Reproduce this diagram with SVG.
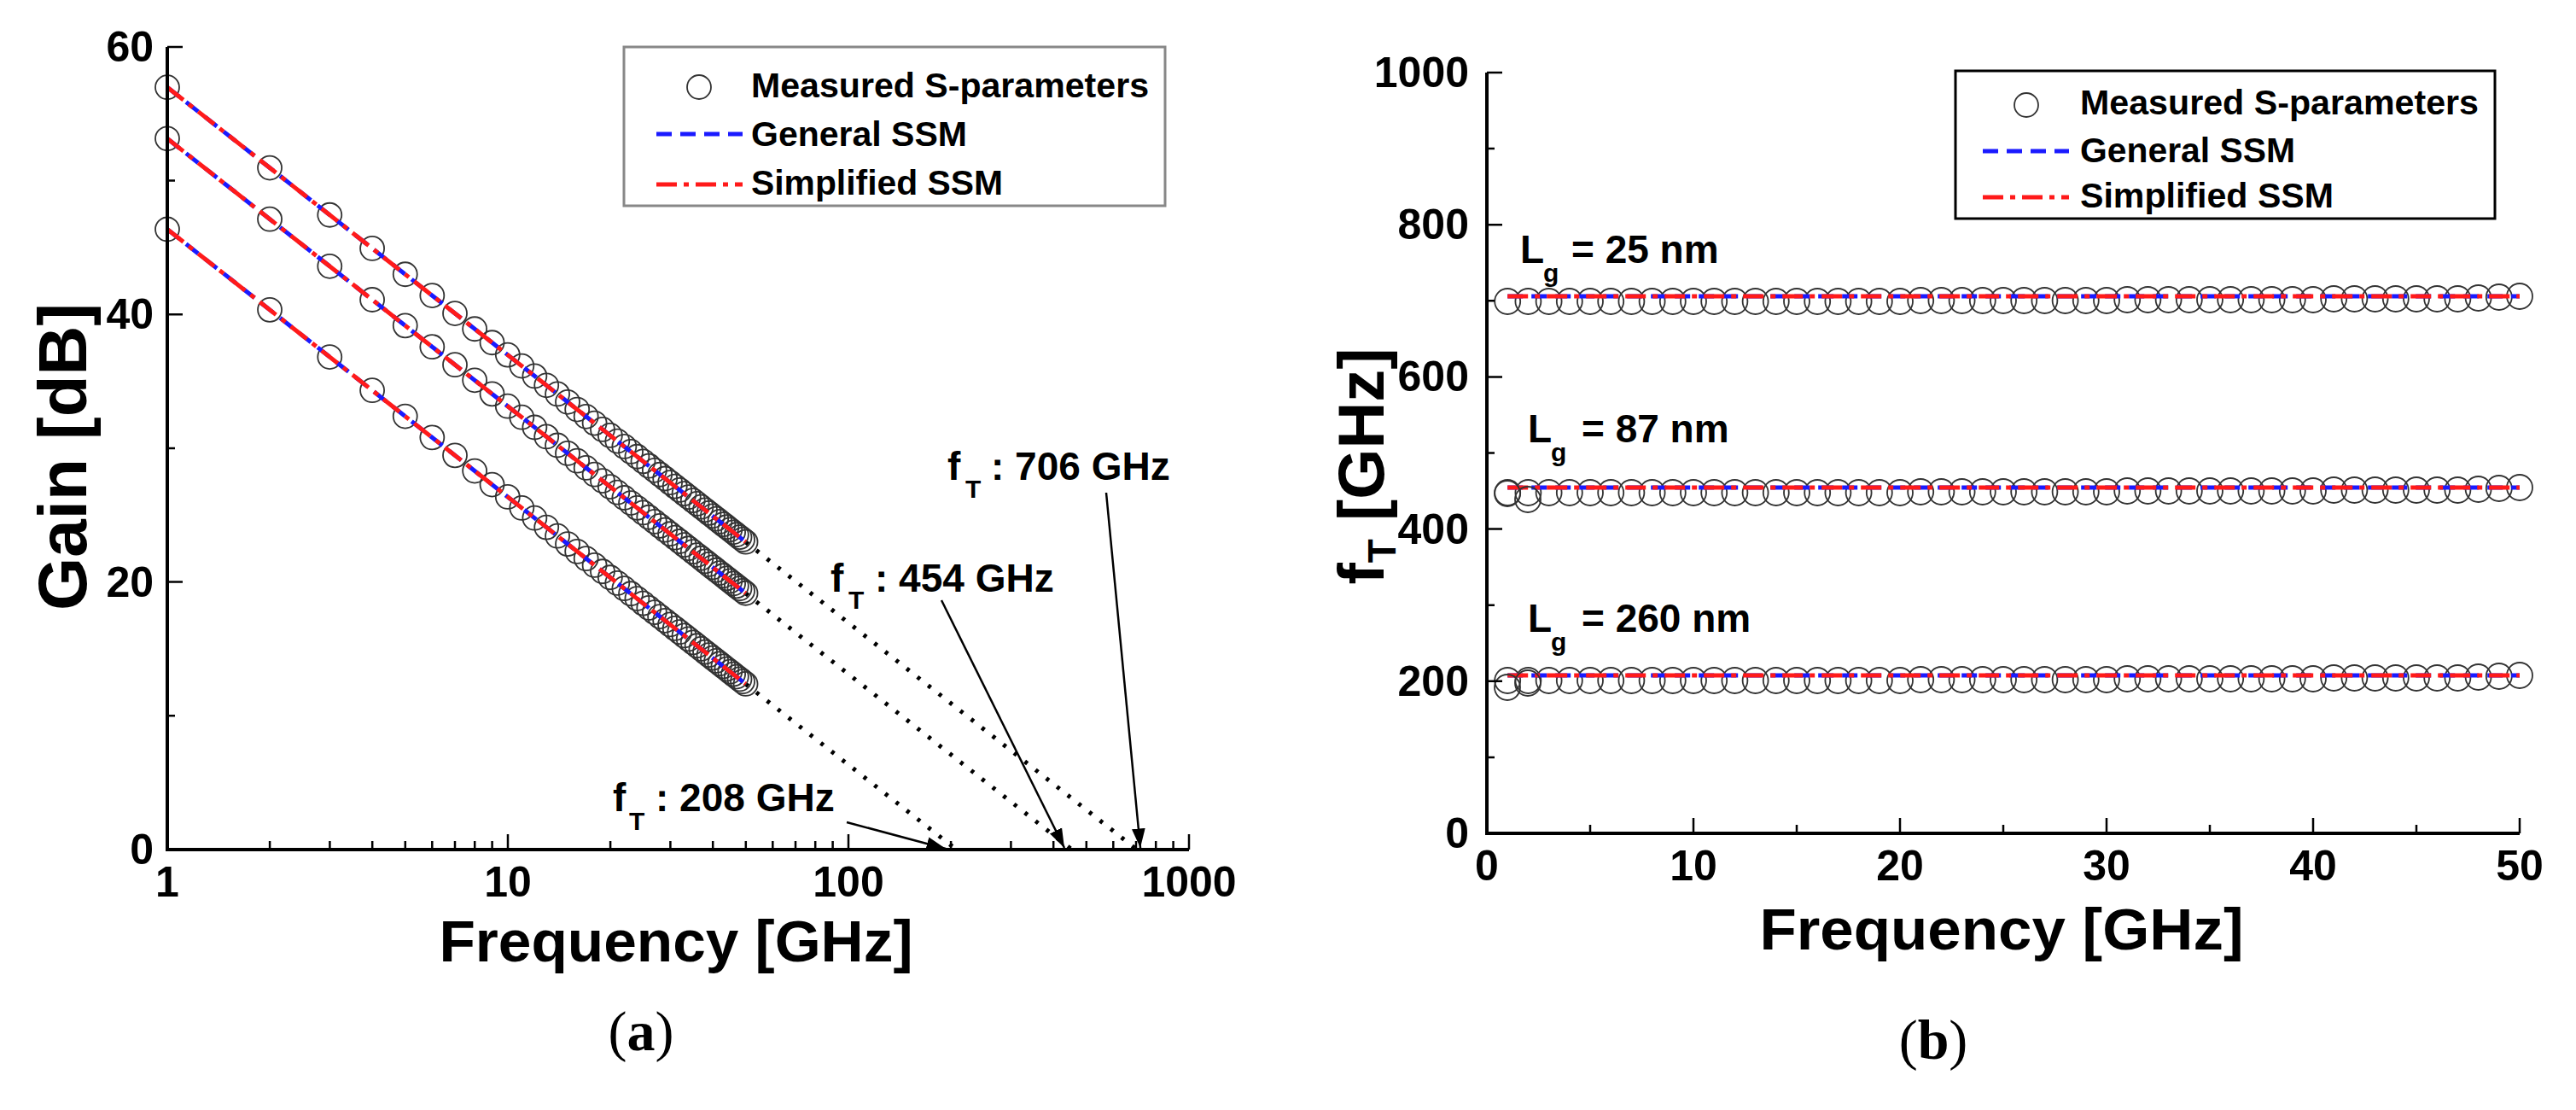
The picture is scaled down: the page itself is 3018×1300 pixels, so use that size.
<svg xmlns="http://www.w3.org/2000/svg" xmlns:xlink="http://www.w3.org/1999/xlink" width="3018" height="1300" viewBox="0 0 3018 1300">
<style>
text{font-family:"Liberation Sans",Arial,sans-serif;font-weight:bold;fill:#000}
.ax{stroke:#000;stroke-width:4;fill:none}
.tk{stroke:#000;stroke-width:2.5}
.pt{fill:none;stroke:#333;stroke-width:1.8}
.gen{stroke:#1a1aff;stroke-width:5;stroke-dasharray:18 10;fill:none}
.sim{stroke:#ff1a1a;stroke-width:5;stroke-dasharray:24 8 6 8;fill:none}
.dot{stroke:#000;stroke-width:5;stroke-dasharray:4 12;fill:none}
.arr{stroke:#000;stroke-width:2.5;fill:none}
.n{font-size:50px}
.t{font-size:46px}
.sb{font-size:30px}
.lg{font-size:40px}
.cap{font-family:"Liberation Serif","Times New Roman",serif;font-weight:normal;font-size:66px}
</style>
<defs>
<marker id="ah" viewBox="0 0 10 10" refX="10" refY="5" markerWidth="9" markerHeight="9" orient="auto"><path d="M0,1.5 L10,5 L0,8.5 z" fill="#000"/></marker>
<g id="serA">
<circle class="pt" r="14" cx="0" cy="0"/><circle class="pt" r="14" cx="120.05" cy="94.34"/><circle class="pt" r="14" cx="190.28" cy="149.53"/><circle class="pt" r="14" cx="240.10" cy="188.69"/><circle class="pt" r="14" cx="278.75" cy="219.06"/><circle class="pt" r="14" cx="310.33" cy="243.87"/><circle class="pt" r="14" cx="337.03" cy="264.85"/><circle class="pt" r="14" cx="360.15" cy="283.03"/><circle class="pt" r="14" cx="380.55" cy="299.06"/><circle class="pt" r="14" cx="398.8" cy="313.4"/>
<circle class="pt" r="14" cx="415.31" cy="326.37"/><circle class="pt" r="14" cx="430.38" cy="338.21"/><circle class="pt" r="14" cx="444.24" cy="349.11"/><circle class="pt" r="14" cx="457.08" cy="359.20"/><circle class="pt" r="14" cx="469.02" cy="368.59"/><circle class="pt" r="14" cx="480.20" cy="377.37"/><circle class="pt" r="14" cx="490.70" cy="385.62"/><circle class="pt" r="14" cx="500.60" cy="393.40"/><circle class="pt" r="14" cx="509.97" cy="400.76"/><circle class="pt" r="14" cx="518.85" cy="407.74"/>
<circle class="pt" r="14" cx="527.30" cy="414.38"/><circle class="pt" r="14" cx="535.36" cy="420.71"/><circle class="pt" r="14" cx="543.06" cy="426.77"/><circle class="pt" r="14" cx="550.43" cy="432.56"/><circle class="pt" r="14" cx="557.50" cy="438.11"/><circle class="pt" r="14" cx="564.29" cy="443.45"/><circle class="pt" r="14" cx="570.83" cy="448.59"/><circle class="pt" r="14" cx="577.13" cy="453.54"/><circle class="pt" r="14" cx="583.20" cy="458.32"/><circle class="pt" r="14" cx="589.08" cy="462.93"/>
<circle class="pt" r="14" cx="594.75" cy="467.39"/><circle class="pt" r="14" cx="600.25" cy="471.71"/><circle class="pt" r="14" cx="605.58" cy="475.90"/><circle class="pt" r="14" cx="610.75" cy="479.97"/><circle class="pt" r="14" cx="615.78" cy="483.91"/><circle class="pt" r="14" cx="620.65" cy="487.74"/><circle class="pt" r="14" cx="625.40" cy="491.47"/><circle class="pt" r="14" cx="630.02" cy="495.10"/><circle class="pt" r="14" cx="634.51" cy="498.64"/><circle class="pt" r="14" cx="638.90" cy="502.09"/>
<circle class="pt" r="14" cx="643.18" cy="505.45"/><circle class="pt" r="14" cx="647.35" cy="508.73"/><circle class="pt" r="14" cx="651.43" cy="511.93"/><circle class="pt" r="14" cx="655.41" cy="515.06"/><circle class="pt" r="14" cx="659.30" cy="518.12"/><circle class="pt" r="14" cx="663.11" cy="521.11"/><circle class="pt" r="14" cx="666.83" cy="524.04"/><circle class="pt" r="14" cx="670.48" cy="526.90"/><circle class="pt" r="14" cx="674.05" cy="529.71"/><circle class="pt" r="14" cx="677.55" cy="532.46"/>
<line class="gen" x1="0" y1="0" x2="677.55" y2="532.46"/>
<line class="sim" x1="0" y1="0" x2="677.55" y2="532.46"/>
</g>
<g id="serB">
<circle class="pt" r="15" cx="24.2" cy="6"/><circle class="pt" r="15" cx="48.4" cy="6"/><circle class="pt" r="15" cx="72.6" cy="6"/><circle class="pt" r="15" cx="96.8" cy="6"/><circle class="pt" r="15" cx="121" cy="6"/><circle class="pt" r="15" cx="145.2" cy="6"/><circle class="pt" r="15" cx="169.4" cy="6"/><circle class="pt" r="15" cx="193.6" cy="6"/><circle class="pt" r="15" cx="217.8" cy="6"/><circle class="pt" r="15" cx="242" cy="6"/>
<circle class="pt" r="15" cx="266.2" cy="6"/><circle class="pt" r="15" cx="290.4" cy="6"/><circle class="pt" r="15" cx="314.6" cy="6"/><circle class="pt" r="15" cx="338.8" cy="6"/><circle class="pt" r="15" cx="363" cy="6"/><circle class="pt" r="15" cx="387.2" cy="6"/><circle class="pt" r="15" cx="411.4" cy="6"/><circle class="pt" r="15" cx="435.6" cy="6"/><circle class="pt" r="15" cx="459.8" cy="6"/><circle class="pt" r="15" cx="484" cy="6"/>
<circle class="pt" r="15" cx="508.2" cy="5"/><circle class="pt" r="15" cx="532.4" cy="5"/><circle class="pt" r="15" cx="556.6" cy="5"/><circle class="pt" r="15" cx="580.8" cy="5"/><circle class="pt" r="15" cx="605" cy="5"/><circle class="pt" r="15" cx="629.2" cy="5"/><circle class="pt" r="15" cx="653.4" cy="5"/><circle class="pt" r="15" cx="677.6" cy="5"/><circle class="pt" r="15" cx="701.8" cy="5"/><circle class="pt" r="15" cx="726" cy="5"/>
<circle class="pt" r="15" cx="750.2" cy="4"/><circle class="pt" r="15" cx="774.4" cy="4"/><circle class="pt" r="15" cx="798.6" cy="4"/><circle class="pt" r="15" cx="822.8" cy="4"/><circle class="pt" r="15" cx="847" cy="4"/><circle class="pt" r="15" cx="871.2" cy="4"/><circle class="pt" r="15" cx="895.4" cy="4"/><circle class="pt" r="15" cx="919.6" cy="4"/><circle class="pt" r="15" cx="943.8" cy="4"/><circle class="pt" r="15" cx="968" cy="4"/>
<circle class="pt" r="15" cx="992.2" cy="3"/><circle class="pt" r="15" cx="1016.4" cy="3"/><circle class="pt" r="15" cx="1040.6" cy="3"/><circle class="pt" r="15" cx="1064.8" cy="3"/><circle class="pt" r="15" cx="1089" cy="3"/><circle class="pt" r="15" cx="1113.2" cy="3"/><circle class="pt" r="15" cx="1137.4" cy="3"/><circle class="pt" r="15" cx="1161.6" cy="2"/><circle class="pt" r="15" cx="1185.8" cy="1"/><circle class="pt" r="15" cx="1210" cy="0"/>
<line class="gen" x1="24.2" y1="0" x2="1210" y2="0"/>
<line class="sim" x1="24.2" y1="0" x2="1210" y2="0"/>
</g>
</defs>

<g id="plot-a">
<g id="a-data">
<line class="dot" x1="873.5" y1="634.7" x2="1332" y2="995"/>
<line class="dot" x1="873.5" y1="694.8" x2="1255.7" y2="995"/>
<line class="dot" x1="873.5" y1="801" x2="1120.5" y2="995"/>
<use xlink:href="#serA" transform="translate(196,102.2)"/>
<use xlink:href="#serA" transform="translate(196,162.3)"/>
<use xlink:href="#serA" transform="translate(196,268.5)"/>
</g>
<g id="a-axes">
<path class="ax" d="M196,55 V995 H1393"/>
<path class="tk" d="M196,55h18M196,368.2h18M196,681.6h18M196,211.5h9M196,524.9h9M196,838.3h9"/>
<path class="tk" d="M595,995v-18M994,995v-18M1393,995v-18
M316.1,995v-10M386.4,995v-10M436.2,995v-10M474.8,995v-10M506.3,995v-10M533.0,995v-10M556.2,995v-10M576.6,995v-10
M715.1,995v-10M785.4,995v-10M835.2,995v-10M873.8,995v-10M905.3,995v-10M932.0,995v-10M955.2,995v-10M975.6,995v-10
M1114.1,995v-10M1184.4,995v-10M1234.2,995v-10M1272.8,995v-10M1304.3,995v-10M1331.0,995v-10M1354.2,995v-10M1374.6,995v-10"/>
<g class="n" text-anchor="end"><text x="180" y="72">60</text><text x="180" y="385">40</text><text x="180" y="699">20</text><text x="180" y="1012">0</text></g>
<g class="n" text-anchor="middle"><text x="196" y="1050">1</text><text x="595" y="1050">10</text><text x="994" y="1050">100</text><text x="1393" y="1050">1000</text></g>
<text transform="translate(101,535) rotate(-90)" text-anchor="middle" font-size="80">Gain [dB]</text>
<text x="792" y="1126" text-anchor="middle" font-size="68" textLength="555" lengthAdjust="spacingAndGlyphs">Frequency [GHz]</text>
</g>
<g id="a-legend">
<rect x="731" y="55" width="634" height="186" fill="#fff" stroke="#888" stroke-width="3"/>
<circle class="pt" r="14" cx="819" cy="102"/>
<line class="gen" x1="769" y1="157" x2="870" y2="157"/>
<line class="sim" x1="769" y1="216" x2="870" y2="216"/>
<text class="lg" x="880" y="114" textLength="466" lengthAdjust="spacingAndGlyphs">Measured S-parameters</text>
<text class="lg" x="880" y="171" textLength="253" lengthAdjust="spacingAndGlyphs">General SSM</text>
<text class="lg" x="880" y="228" textLength="295" lengthAdjust="spacingAndGlyphs">Simplified SSM</text>
</g>
<g id="a-annot">
<text class="t" x="1110" y="562">f<tspan class="sb" x="1131" dy="21">T</tspan><tspan x="1161" dy="-21">: 706 GHz</tspan></text>
<text class="t" x="973" y="693">f<tspan class="sb" x="994" dy="20">T</tspan><tspan x="1025" dy="-20">: 454 GHz</tspan></text>
<text class="t" x="718" y="950">f<tspan class="sb" x="737" dy="22">T</tspan><tspan x="768" dy="-22">: 208 GHz</tspan></text>
</g>
</g>

<g id="connectors">
<line class="arr" x1="1296" y1="577" x2="1336" y2="993" marker-end="url(#ah)"/>
<line class="arr" x1="1103" y1="703" x2="1247" y2="993" marker-end="url(#ah)"/>
<line class="arr" x1="992" y1="963" x2="1108" y2="994" marker-end="url(#ah)"/>
</g>

<g id="plot-b">
<g id="b-data">
<use xlink:href="#serB" transform="translate(1742,347)"/>
<use xlink:href="#serB" transform="translate(1742,571)"/>
<use xlink:href="#serB" transform="translate(1742,791)"/>
<circle class="pt" r="15" cx="1766" cy="578"/><circle class="pt" r="15" cx="1790" cy="585"/>
<circle class="pt" r="15" cx="1766" cy="805"/><circle class="pt" r="15" cx="1790" cy="800"/>
</g>
<g id="b-axes">
<path class="ax" d="M1742,85 V976 H2952"/>
<path class="tk" d="M1742,85h18M1742,263.2h18M1742,441.4h18M1742,619.6h18M1742,797.8h18M1742,174.1h9M1742,352.3h9M1742,530.5h9M1742,708.7h9M1742,886.9h9"/>
<path class="tk" d="M1984,976v-18M2226,976v-18M2468,976v-18M2710,976v-18M2952,976v-18M1863,976v-10M2105,976v-10M2347,976v-10M2589,976v-10M2831,976v-10"/>
<g class="n" text-anchor="end"><text x="1721" y="102">1000</text><text x="1721" y="280">800</text><text x="1721" y="458">600</text><text x="1721" y="637">400</text><text x="1721" y="815">200</text><text x="1721" y="993">0</text></g>
<g class="n" text-anchor="middle"><text x="1742" y="1031">0</text><text x="1984" y="1031">10</text><text x="2226" y="1031">20</text><text x="2468" y="1031">30</text><text x="2710" y="1031">40</text><text x="2952" y="1031">50</text></g>
<text transform="translate(1621,546) rotate(-90)" text-anchor="middle" font-size="76">f<tspan font-size="46" dy="14">T</tspan><tspan dy="-14"> [GHz]</tspan></text>
<text x="2345" y="1112" text-anchor="middle" font-size="68" textLength="567" lengthAdjust="spacingAndGlyphs">Frequency [GHz]</text>
</g>
<g id="b-legend">
<rect x="2291" y="83" width="632" height="173" fill="#fff" stroke="#000" stroke-width="3"/>
<circle class="pt" r="14" cx="2374" cy="123"/>
<line class="gen" x1="2323" y1="177" x2="2424" y2="177"/>
<line class="sim" x1="2323" y1="231" x2="2424" y2="231"/>
<text class="lg" x="2437" y="134" textLength="467" lengthAdjust="spacingAndGlyphs">Measured S-parameters</text>
<text class="lg" x="2437" y="190" textLength="252" lengthAdjust="spacingAndGlyphs">General SSM</text>
<text class="lg" x="2437" y="243" textLength="297" lengthAdjust="spacingAndGlyphs">Simplified SSM</text>
</g>
<g id="b-annot">
<text class="t" x="1781" y="308">L<tspan class="sb" x="1808" dy="22">g</tspan><tspan x="1841" dy="-22">= 25 nm</tspan></text>
<text class="t" x="1790" y="518">L<tspan class="sb" x="1817" dy="22">g</tspan><tspan x="1853" dy="-22">= 87 nm</tspan></text>
<text class="t" x="1790" y="740">L<tspan class="sb" x="1817" dy="22">g</tspan><tspan x="1853" dy="-22">= 260 nm</tspan></text>
</g>
</g>

<g id="captions">
<text class="cap" x="751" y="1230" text-anchor="middle">(<tspan font-weight="bold">a</tspan>)</text>
<text class="cap" x="2265" y="1240" text-anchor="middle">(<tspan font-weight="bold">b</tspan>)</text>
</g>
</svg>
